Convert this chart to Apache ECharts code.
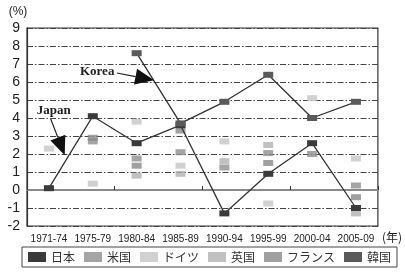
<!DOCTYPE html>
<html>
<head>
<meta charset="utf-8">
<script src="https://cdn.jsdelivr.net/npm/echarts@6/dist/echarts.min.js"></script>
<style>
  html, body { margin: 0; padding: 0; background: #fff; }
  #main { width: 405px; height: 274px; }
</style>
</head>
<body>
<div id="main"></div>
<script>
// 期間
var periods = ['1971-74', '1975-79', '1980-84', '1985-89', '1990-94', '1995-99', '2000-04', '2005-09'];
// 各国の値 (%)
var japan   = [0.1, 4.1, 2.6, 3.6, -1.3, 0.9, 2.6, -1.0];
var usa     = [null, 2.7, 1.75, 2.1, 1.25, 2.05, 2.0, 0.25];
var germany = [2.3, 0.35, 3.8, 1.35, 2.7, -0.75, 5.1, 1.75];
var uk      = [null, null, 0.8, 0.9, 1.6, 2.5, null, -1.3];
var france  = [null, 2.9, 1.35, 3.3, null, 1.5, null, -0.4];
var korea   = [null, null, 7.6, 3.7, 4.9, 6.4, 4.0, 4.9];
var names   = ['日本', '米国', 'ドイツ', '英国', 'フランス', '韓国'];

var colors = ['#3a3a3a', '#8e8e8e', '#c6c6c6', '#b2b2b2', '#888888', '#5a5a5a'];
var mark = [10, 6];
var sans = '"Liberation Sans", Arial, sans-serif';
var jp = '"Noto Sans CJK JP", sans-serif';

var chart = echarts.init(document.getElementById('main'));

function dots(name, data, color) {
  return {
    name: name, type: 'scatter', data: data,
    symbol: 'rect', symbolSize: mark,
    itemStyle: { color: color },
    z: 2
  };
}
function line(name, data, color) {
  return {
    name: name, type: 'line', data: data,
    symbol: 'rect', symbolSize: mark, showSymbol: true,
    lineStyle: { color: '#333', width: 1.3 },
    itemStyle: { color: color },
    z: 4
  };
}

var option = {
  animation: false,
  grid: {
    left: 27, right: 22, top: 28, bottom: 48,
    show: true, borderColor: '#333', borderWidth: 1.2
  },
  legend: {
    data: names,
    left: 22, top: 247,
    padding: [4, 6],
    itemGap: 9, itemWidth: 18, itemHeight: 10,
    icon: 'rect',
    borderColor: '#444', borderWidth: 1,
    textStyle: { fontFamily: jp, fontSize: 12, color: '#333' }
  },
  xAxis: [{
    type: 'category', data: periods,
    axisLine: { onZero: true, lineStyle: { color: '#8a8a8a', width: 2 } },
    axisTick: { show: true, inside: true, length: 4, lineStyle: { color: '#333' } },
    axisLabel: { show: false },
    splitLine: { show: false }
  }, {
    type: 'category', data: periods, position: 'bottom',
    axisLine: { show: false, onZero: false },
    axisTick: { show: false },
    axisLabel: { interval: 0, margin: 8, fontFamily: sans, fontSize: 10, color: '#222' },
    name: '(年)', nameLocation: 'end', nameGap: 4,
    nameTextStyle: { fontFamily: jp, fontSize: 12, color: '#222', verticalAlign: 'top', padding: [5, 0, 0, 0] }
  }],
  yAxis: {
    type: 'value', min: -2, max: 9, interval: 1,
    name: '(%)', nameGap: 10,
    nameTextStyle: { fontFamily: sans, fontSize: 12, color: '#222', padding: [0, 18, 0, 0] },
    axisLine: { show: true, lineStyle: { color: '#333', width: 1.2 } },
    axisTick: { show: false },
    axisLabel: { margin: 7, fontFamily: sans, fontSize: 14, color: '#222' },
    splitLine: { lineStyle: { color: '#444', width: 1, type: [6, 2, 1.5, 2] } }
  },
  series: [
    line(names[0], japan, colors[0]),
    dots(names[1], usa, colors[1]),
    dots(names[2], germany, colors[2]),
    dots(names[3], uk, colors[3]),
    dots(names[4], france, colors[4]),
    line(names[5], korea, colors[5])
  ]
};
chart.setOption(option);

// 注記 (Japan / Korea の矢印) — 位置はカテゴリ番号と値から求める
function px(i, v) {
  var a = chart.convertToPixel({ xAxisIndex: 0, yAxisIndex: 0 }, [0, v]);
  var b = chart.convertToPixel({ xAxisIndex: 0, yAxisIndex: 0 }, [1, v]);
  return [a[0] + (b[0] - a[0]) * i, a[1]];
}
function arrow(from, tip) {
  var dx = tip[0] - from[0], dy = tip[1] - from[1];
  var d = Math.sqrt(dx * dx + dy * dy);
  var ux = dx / d, uy = dy / d;
  var len = 19, hw = 8;
  var bx = tip[0] - ux * len, by = tip[1] - uy * len;
  return [{
    type: 'line', z: 10,
    shape: { x1: from[0], y1: from[1], x2: bx, y2: by },
    style: { stroke: '#222', lineWidth: 1.2 }
  }, {
    type: 'polygon', z: 10,
    shape: { points: [tip, [bx - uy * hw, by + ux * hw], [bx + uy * hw, by - ux * hw]] },
    style: { fill: '#111' }
  }];
}
var serif = '"Liberation Serif", "DejaVu Serif", serif';
var jLabel = px(0.11, 4.4), kLabel = px(1.1, 6.56);
var graphics = [{
  type: 'text', z: 10, x: jLabel[0], y: jLabel[1],
  style: { text: 'Japan', fontFamily: serif, fontWeight: 'bold', fontSize: 13, fill: '#222', align: 'center', verticalAlign: 'middle' }
}, {
  type: 'text', z: 10, x: kLabel[0], y: kLabel[1],
  style: { text: 'Korea', fontFamily: serif, fontWeight: 'bold', fontSize: 13, fill: '#222', align: 'center', verticalAlign: 'middle' }
}];
graphics = graphics.concat(arrow(px(0.04, 3.95), px(0.36, 1.93)));
graphics = graphics.concat(arrow(px(1.55, 6.5), px(2.4, 6.1)));
chart.setOption({ graphic: graphics });
</script>
</body>
</html>
